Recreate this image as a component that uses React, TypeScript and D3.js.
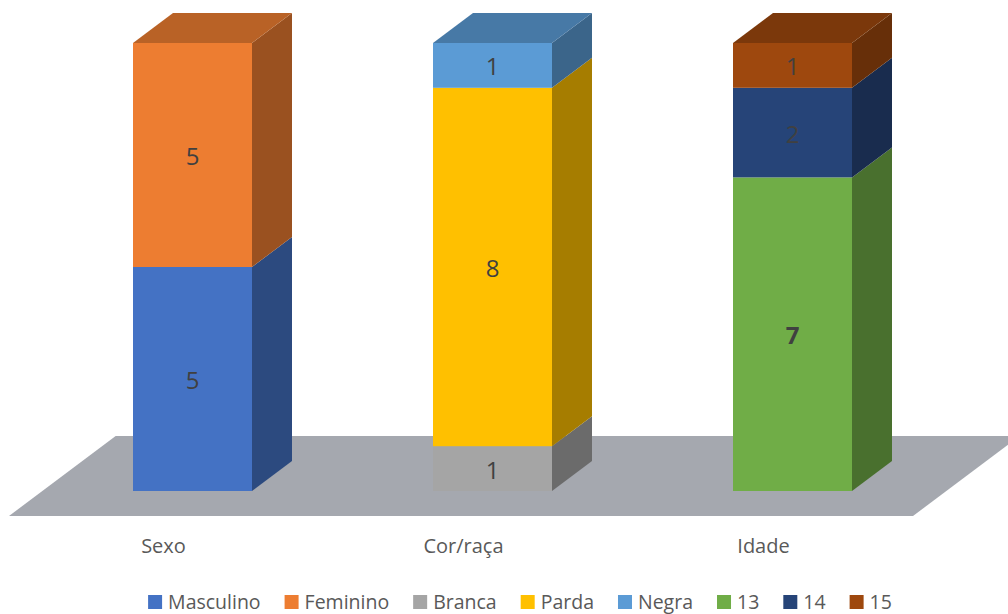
import React from "react";
import * as d3 from "d3";

const categories = ["Sexo", "Cor/raça", "Idade"];
const seriesNames = ["Masculino", "Feminino", "Branca", "Parda", "Negra", "13", "14", "15"];
const seriesColors = ["#4472C4", "#ED7D31", "#A5A5A5", "#FFC000", "#5B9BD5", "#70AD47", "#264478", "#9E480E"];
const masculino = [5, 0, 0];
const feminino = [5, 0, 0];
const branca = [0, 1, 0];
const parda = [0, 8, 0];
const negra = [0, 1, 0];
const idade13 = [0, 0, 7];
const idade14 = [0, 0, 2];
const idade15 = [0, 0, 1];
const boldSeries = ["13"];

const seriesValues = [masculino, feminino, branca, parda, negra, idade13, idade14, idade15];

const W = 1008;
const H = 614;
const DX = 40;
const DY = -30;
const FONT = "'Open Sans', 'Liberation Sans', sans-serif";

function shade(c: string, k: number) {
  const r = d3.rgb(c);
  return d3.rgb(r.r * k, r.g * k, r.b * k).formatHex();
}

function measure(text: string, size: number) {
  const cv = document.createElement("canvas");
  const ctx = cv.getContext("2d")!;
  ctx.font = `${size}px ${FONT}`;
  return ctx.measureText(text).width;
}

export default function App() {
  const rows = categories.map((c, i) => {
    const r: any = { cat: c };
    seriesNames.forEach((s, j) => (r[s] = seriesValues[j][i]));
    return r;
  });
  const stacked = d3.stack<any>().keys(seriesNames)(rows);

  const y = d3.scaleLinear().domain([0, 10]).range([491, 43]);
  const x = d3.scalePoint<string>().domain(categories).range([192.5, 792.5]);
  const bw = 119;

  const y0 = y(0);
  const floorFrontY = y0 + 25;
  const floorBackY = y0 - 55;
  const slope = DX / -DY;
  const fl = 9;
  const fr = 913;
  const floorPts = [
    [fl, floorFrontY],
    [fr, floorFrontY],
    [fr + (floorFrontY - floorBackY) * slope, floorBackY],
    [fl + (floorFrontY - floorBackY) * slope, floorBackY],
  ];

  const bars: any[] = [];
  const labels: any[] = [];
  categories.forEach((cat, ci) => {
    const cx = x(cat)!;
    const x0 = cx - bw / 2;
    const x1 = cx + bw / 2;
    const segs = stacked
      .map((layer, si) => ({ si, lo: layer[ci][0], hi: layer[ci][1] }))
      .filter((s) => s.hi - s.lo > 0);
    segs.forEach((s, k) => {
      const col = seriesColors[s.si];
      const yt = y(s.hi);
      const yb = y(s.lo);
      bars.push(
        <g key={`${cat}-${s.si}`}>
          <rect x={x0} y={yt} width={bw} height={yb - yt} fill={col} />
          <polygon
            points={`${x1},${yb} ${x1 + DX},${yb + DY} ${x1 + DX},${yt + DY} ${x1},${yt}`}
            fill={shade(col, 0.65)}
          />
          {k === segs.length - 1 && (
            <polygon
              points={`${x0},${yt} ${x1},${yt} ${x1 + DX},${yt + DY} ${x0 + DX},${yt + DY}`}
              fill={shade(col, 0.78)}
            />
          )}
        </g>
      );
      labels.push(
        <text
          key={`l-${cat}-${s.si}`}
          x={cx}
          y={(yt + yb) / 2}
          dy="0.42em"
          textAnchor="middle"
          fontFamily={FONT}
          fontSize={24}
          fontWeight={boldSeries.includes(seriesNames[s.si]) ? 700 : 400}
          fill="#404040"
        >
          {s.hi - s.lo}
        </text>
      );
    });
  });

  // legend layout
  const lgSize = 19.5;
  const sq = 14;
  const gapSq = 6;
  const gapItem = 24;
  const widths = seriesNames.map((s) => sq + gapSq + measure(s, lgSize));
  const total = d3.sum(widths) + gapItem * (seriesNames.length - 1);
  let lx = 520 - total / 2;
  const legend = seriesNames.map((s, i) => {
    const gx = lx;
    lx += widths[i] + gapItem;
    return (
      <g key={`lg-${s}`} transform={`translate(${gx},0)`}>
        <rect x={0} y={595} width={sq} height={sq} fill={seriesColors[i]} />
        <text x={sq + gapSq} y={608.5} fontFamily={FONT} fontSize={lgSize} fill="#595959">
          {s}
        </text>
      </g>
    );
  });

  return (
    <svg width={W} height={H} style={{ position: "absolute", left: 0, top: 0, background: "#fff" }}>
      <polygon points={floorPts.map((p) => p.join(",")).join(" ")} fill="#A5A8AF" />
      {bars}
      {labels}
      {categories.map((c) => (
        <text
          key={`c-${c}`}
          x={x(c)! - 29}
          y={553}
          textAnchor="middle"
          fontFamily={FONT}
          fontSize={20}
          fill="#595959"
        >
          {c}
        </text>
      ))}
      {legend}
    </svg>
  );
}
